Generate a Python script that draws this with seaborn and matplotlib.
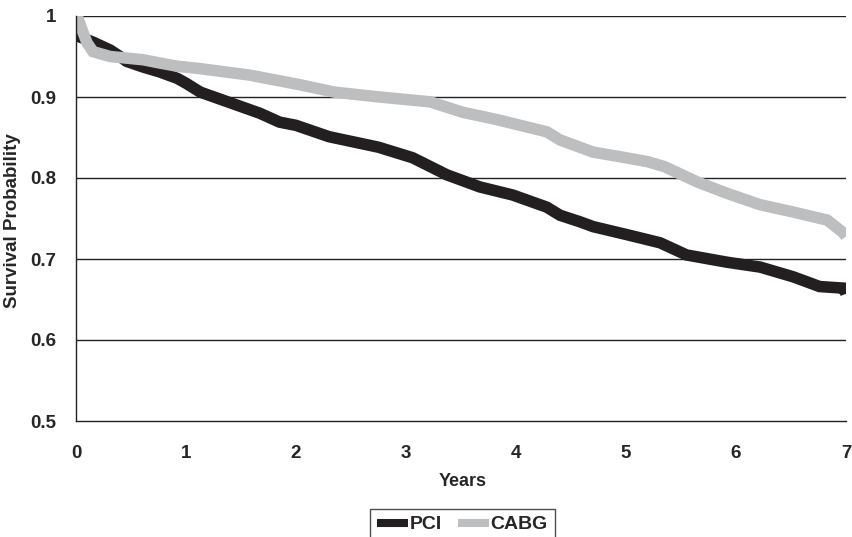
import numpy as np
import pandas as pd
import matplotlib
matplotlib.use("Agg")
import matplotlib.pyplot as plt
import seaborn as sns

# Kaplan-Meier curves (years, survival probability)
pci_years = [0.0, 0.15, 0.31, 0.40, 0.46, 0.61, 0.76, 0.92, 1.00, 1.13, 1.40, 1.67,
             1.85, 2.00, 2.30, 2.75, 3.06, 3.37, 3.67, 3.97, 4.28, 4.40, 4.58, 4.70,
             5.01, 5.31, 5.55, 5.92, 6.22, 6.52, 6.76, 6.98, 7.00]
pci_surv = [0.976, 0.968, 0.958, 0.950, 0.944, 0.937, 0.931, 0.923, 0.917, 0.906, 0.893, 0.880,
            0.869, 0.865, 0.851, 0.838, 0.825, 0.804, 0.789, 0.779, 0.764, 0.754, 0.746, 0.740,
            0.730, 0.720, 0.705, 0.696, 0.690, 0.678, 0.666, 0.664, 0.657]

cabg_years = [0.0, 0.01, 0.055, 0.10, 0.155, 0.31, 0.46, 0.61, 0.76, 0.92, 1.13, 1.58,
              2.04, 2.35, 2.76, 3.22, 3.52, 3.83, 4.28, 4.40, 4.58, 4.70, 5.00, 5.20,
              5.35, 5.65, 5.92, 6.22, 6.52, 6.83, 6.97, 7.00]
cabg_surv = [1.000, 1.000, 0.983, 0.967, 0.956, 0.950, 0.948, 0.946, 0.942, 0.938, 0.935, 0.927,
             0.915, 0.906, 0.900, 0.894, 0.881, 0.872, 0.857, 0.847, 0.838, 0.832, 0.825, 0.820,
             0.814, 0.795, 0.781, 0.767, 0.758, 0.748, 0.733, 0.728]

x_ticks = [0, 1, 2, 3, 4, 5, 6, 7]
y_ticks = [0.5, 0.6, 0.7, 0.8, 0.9, 1.0]
y_tick_labels = ['0.5', '0.6', '0.7', '0.8', '0.9', '1']

df = pd.concat([
    pd.DataFrame({'Years': pci_years, 'Survival': pci_surv, 'Group': 'PCI'}),
    pd.DataFrame({'Years': cabg_years, 'Survival': cabg_surv, 'Group': 'CABG'}),
], ignore_index=True)

sns.set_style("white")
plt.rcParams['font.family'] = ['Liberation Sans', 'DejaVu Sans']
plt.rcParams['font.weight'] = 'bold'

fig = plt.figure(figsize=(8.53, 5.37), dpi=100)
ax = fig.add_axes([76 / 853, 1 - 421 / 537, 770 / 853, 405 / 537])

cores = {'PCI': '#231f20', 'CABG': '#bcbec0'}
sns.lineplot(data=df, x='Years', y='Survival', hue='Group', palette=cores,
             hue_order=['PCI', 'CABG'], sort=False, estimator=None,
             linewidth=8.3, solid_joinstyle='miter', solid_capstyle='butt', ax=ax)

ax.set_xlim(0, 7)
ax.set_ylim(0.5, 1.0)
ax.set_xticks(x_ticks)
ax.set_yticks(y_ticks)
ax.set_yticklabels(y_tick_labels)
for y in y_ticks[1:]:
    ax.axhline(y, color='#222222', linewidth=1.0, zorder=0)

for s in ['top', 'right']:
    ax.spines[s].set_visible(False)
for s in ['left', 'bottom']:
    ax.spines[s].set_color('#222222')
    ax.spines[s].set_linewidth(1.0)

ax.tick_params(axis='both', direction='out', length=7, width=1, color='#222222',
               labelsize=13.5)
ax.tick_params(axis='x', pad=10)
ax.tick_params(axis='y', pad=7)
for lab in ax.get_xticklabels() + ax.get_yticklabels():
    lab.set_fontweight('bold')

ax.set_xlabel('Years', fontsize=13, fontweight='bold')
ax.set_ylabel('Survival Probability', fontsize=13.5, fontweight='bold')
ax.xaxis.set_label_coords(0.5026, -0.128)
ax.yaxis.set_label_coords(-0.071, 0.495)

ax.get_legend().remove()
handles, labels = ax.get_legend_handles_labels()
leg = fig.legend(handles, labels, loc='upper center', bbox_to_anchor=(0.542, 0.052),
                 bbox_transform=fig.transFigure, ncol=2, frameon=True, fancybox=False,
                 edgecolor='#222222', borderaxespad=0, handlelength=1.6,
                 handletextpad=0.1, columnspacing=0.8, borderpad=0.35,
                 prop={'weight': 'bold', 'size': 14})
leg.get_frame().set_linewidth(1.0)
for h in leg.get_lines():
    h.set_linewidth(5.8)

fig.savefig('out.png', dpi=100)
